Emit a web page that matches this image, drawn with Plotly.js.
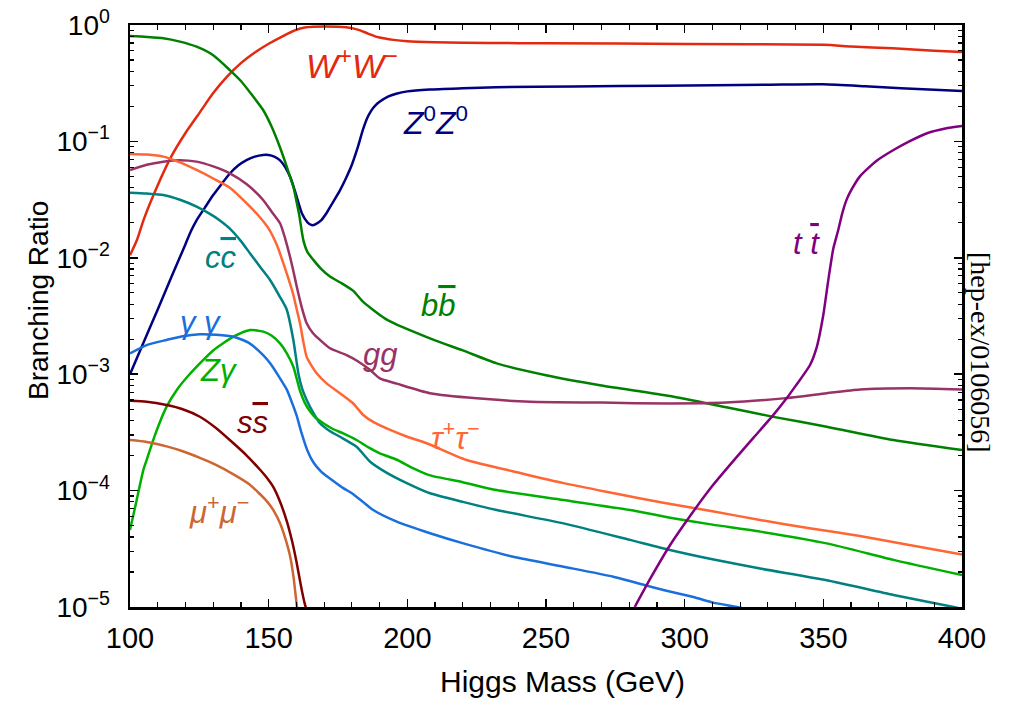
<!DOCTYPE html>
<html><head><meta charset="utf-8">
<script src="https://cdn.plot.ly/plotly-3.0.1.min.js"></script>
<style>html,body{margin:0;padding:0;background:#fff}#chart{width:1012px;height:706px}</style>
</head><body><div id="chart"></div>
<script>
// Higgs branching ratios vs mass (GeV)
const WW_m = [100,102.5,105,110,115,120,125,130,135,140,145,150,155,160,163,166,170,175,180,183,186,190,195,200,210,230,250,300,350,360,375,390,400];
const WW_br = [0.0105,0.0142,0.0215,0.042,0.075,0.118,0.175,0.26,0.36,0.47,0.58,0.69,0.80,0.91,0.95,0.965,0.97,0.965,0.94,0.90,0.84,0.78,0.745,0.725,0.712,0.70,0.697,0.688,0.675,0.655,0.63,0.60,0.585];

const ZZ_m = [100,105,110,115,120,122,124,127,130,133,136,139,142,145,148,150,152,154,156,158,160,162,164,165.5,167,169,171,173,175.7,178,180,182,184,185.5,187,188.5,190,193,196,200,208,220,232,260,292,330,350,365,378,400];
const ZZ_br = [0.001,0.0019,0.0036,0.0069,0.0131,0.0170,0.0210,0.0270,0.0346,0.043,0.053,0.062,0.069,0.074,0.0765,0.0764,0.074,0.069,0.060,0.048,0.034,0.024,0.0202,0.0191,0.0195,0.0211,0.0245,0.0295,0.038,0.049,0.063,0.087,0.126,0.158,0.184,0.204,0.219,0.243,0.257,0.269,0.279,0.286,0.292,0.296,0.301,0.307,0.31,0.298,0.286,0.271];

const BB_m = [100,106,112,118,124,130,136,140,144,148,151,154,156,157.7,159,160.1,161,162.5,164,166.1,169,172.1,176,180.5,184,187.7,192,196,202.2,210,220,232.2,250,270,294.7,315,332,351.2,375.3,400];
const BB_br = [0.804,0.79,0.769,0.72,0.651,0.55,0.41,0.33,0.25,0.186,0.135,0.090,0.066,0.0498,0.040,0.030,0.0235,0.0142,0.0112,0.0096,0.0080,0.0069,0.0061,0.0052,0.0042,0.00356,0.0030,0.00268,0.00232,0.00195,0.00160,0.00124,0.00098,0.00080,0.00065,0.00052,0.00043,0.000354,0.000272,0.000223];

const GG_m = [100,106,112,118,124,130,136,142,148,151,154.1,156,157.7,159,160.1,162,163.7,166,168.5,172.1,178.1,182,186.5,190.1,196.2,208.2,225,244.3,270,294.7,315,335.6,351.2,363.2,381.3,400];
const GG_br = [0.0568,0.063,0.067,0.069,0.067,0.061,0.0532,0.043,0.0314,0.025,0.0198,0.0145,0.0102,0.0075,0.0057,0.0037,0.00274,0.00225,0.00197,0.00167,0.00146,0.00130,0.00109,0.00092,0.00083,0.000686,0.00062,0.00058,0.00057,0.00056,0.00057,0.00062,0.000686,0.00074,0.000757,0.00074];

const TT_m = [100,106,112,118,124,130,136,142,146.9,150,153,156,157.7,158.9,160,161.3,162.5,163.7,165.5,167.3,171,175.7,180.5,184.1,188,193.8,200,207,221.4,240,256.3,275,292.3,310,327.2,345,363.2,380,400];
const TT_br = [0.078,0.077,0.074,0.066,0.0568,0.048,0.040,0.0295,0.0222,0.0178,0.0128,0.0080,0.0060,0.0048,0.0037,0.00274,0.0019,0.00141,0.00118,0.00102,0.00083,0.000686,0.00056,0.000446,0.000385,0.000332,0.000290,0.000255,0.000183,0.000143,0.000116,0.0000945,0.0000785,0.0000665,0.0000559,0.0000475,0.0000407,0.0000345,0.0000283];

const CC_m = [100,106,112,118,124,130,133,136,140,143.3,147,150.5,154.1,156.5,158.9,160.7,162,163.7,166,168.5,172,175.7,181.7,186.5,192,199.8,208.2,220,232.2,256.3,280.3,294.7,310,327.2,351.2,375.3,397,400];
const CC_br = [0.0363,0.0356,0.0346,0.0315,0.0275,0.0229,0.0204,0.0178,0.0139,0.0109,0.0083,0.00645,0.0046,0.0036,0.00197,0.00102,0.00076,0.0006,0.00047,0.000379,0.000325,0.00029,0.000238,0.000178,0.000145,0.000116,0.0000948,0.0000800,0.0000681,0.0000523,0.0000377,0.0000309,0.0000257,0.0000214,0.000017,0.0000127,0.00001,0.0000096];

const AA_m = [100,106,113.2,119,125.2,131,137.3,143,148.1,151,154.1,156.5,158.9,160.1,161.9,164,166.1,169,172.1,176.9,180,184,187.7,196.2,208.2,220.2,238.2,256.3,274.3,292.3,303.1,310.3,318.8,325];
const AA_br = [0.00151,0.00178,0.00197,0.00212,0.0022,0.00218,0.0021,0.00185,0.00145,0.00120,0.00092,0.00074,0.00053,0.00044,0.00031,0.00022,0.000175,0.000145,0.000127,0.000105,0.000095,0.00008,0.0000681,0.0000541,0.000043,0.0000352,0.000027,0.0000222,0.0000182,0.000014,0.0000122,0.0000109,0.00001,0.0000093];

const ZA_m = [100,102,104.8,106,109,113.2,117,121,125.2,130,137.3,143.3,148.1,151,154.1,156.5,158.9,161.3,163,164.9,167,169.7,173,176.9,181.7,186,190.1,196,202.2,208.2,220,232.2,256.3,280.3,294.7,310,327.2,351.2,375.3,400];
const ZA_br = [0.0000459,0.000075,0.00015,0.000183,0.00030,0.000526,0.00074,0.00097,0.00124,0.00160,0.0021,0.0024,0.00232,0.00215,0.00184,0.00152,0.00116,0.00072,0.00057,0.00048,0.00042,0.000379,0.00034,0.00031,0.000272,0.000235,0.000209,0.000185,0.000155,0.000135,0.000118,0.000101,0.000083,0.0000681,0.0000585,0.000051,0.0000444,0.0000352,0.0000254,0.0000188];

const SS_m = [100,106,113.2,119,125.2,131,137.3,142,146.9,149,151.7,154,156.5,158.5,160.1,161.9,163,164];
const SS_br = [0.00059,0.00058,0.000543,0.00050,0.000431,0.000345,0.000255,0.000201,0.000151,0.000132,0.000107,0.0000813,0.000055,0.0000363,0.000024,0.0000141,0.0000107,0.0000089];

const MM_m = [100,106,113.2,119,125.2,131,137.3,143,149.3,152,154.1,156,157.7,159,160.1,161];
const MM_br = [0.000272,0.000262,0.000240,0.000218,0.000191,0.000166,0.000138,0.0001135,0.0000813,0.0000661,0.0000525,0.0000389,0.0000275,0.0000178,0.0000105,0.0000071];

const TOP_m = [282,288,294.7,303.1,310,318.8,325,332,336.2,340,345.2,347.6,350,351.8,353.6,355.4,356.8,358.4,360.5,363.2,369,375.3,381,387.4,394,400];
const TOP_br = [0.00001,0.0000182,0.0000339,0.0000661,0.00011,0.000195,0.000288,0.000447,0.000596,0.000794,0.0012,0.0017,0.00324,0.00646,0.012,0.0174,0.024,0.0316,0.0398,0.0501,0.0676,0.0843,0.1,0.1175,0.129,0.1355];

const xTickVals = [100,150,200,250,300,350,400];
const yTickExp = [-5,-4,-3,-2,-1,0];

const series = [
  {m: WW_m, v: WW_br, c: '#e3290f'},
  {m: ZZ_m, v: ZZ_br, c: '#000080'},
  {m: BB_m, v: BB_br, c: '#008000'},
  {m: GG_m, v: GG_br, c: '#993366'},
  {m: TT_m, v: TT_br, c: '#ff6633'},
  {m: CC_m, v: CC_br, c: '#008080'},
  {m: ZA_m, v: ZA_br, c: '#00b000'},
  {m: AA_m, v: AA_br, c: '#1a6fdc'},
  {m: SS_m, v: SS_br, c: '#800000'},
  {m: MM_m, v: MM_br, c: '#cc6633'},
  {m: TOP_m, v: TOP_br, c: '#800080'}
];

const traces = series.map(s => ({
  x: s.m, y: s.v, type: 'scatter', mode: 'lines',
  line: {color: s.c, width: 2.5, shape: 'spline', smoothing: 0.6},
  hoverinfo: 'skip', showlegend: false
}));

const yTickVals = yTickExp.map(e => Math.pow(10, e));
const yTickText = yTickExp.map(e => '10<sup>' + (e < 0 ? '\u2212' + (-e) : e) + '</sup>');
const yMinor = [];
yTickExp.slice(0, -1).forEach(e => { for (let k = 2; k <= 9; k++) yMinor.push(k * Math.pow(10, e)); });
const xMinor = [];
for (let v = 110; v < 400; v += 10) if (v % 50 !== 0) xMinor.push(v);

const L = 130, R = 962, T = 25, B = 607;
const px = x => (x - L) / (R - L);
const py = y => (B - y) / (B - T);
const FONT = 'Liberation Sans, Arial, Helvetica, sans-serif';
const OL = s => '<span style="text-decoration:overline">' + s + '</span>';

function lab(text, x, y, color, size) {
  return {text: text, x: px(x), y: py(y), xref: 'paper', yref: 'paper', showarrow: false,
    xanchor: 'center', yanchor: 'middle', font: {family: FONT, size: size || 31, color: color}};
}

const annotations = [
  lab('<i>W</i><sup>+</sup><i>W</i><sup>\u2212</sup>', 352, 64, '#e3290f', 34),
  lab('<i>Z</i><sup>0</sup><i>Z</i><sup>0</sup>', 435, 121, '#000080', 32),
  lab('<i>c' + OL('c') + '</i>', 221, 257, '#008080'),
  lab('<i>b' + OL('b') + '</i>', 438, 305, '#008000'),
  lab('<i>\u03b3 \u03b3</i>', 200, 322, '#1a6fdc'),
  lab('<i>Z\u03b3</i>', 218, 370, '#00b000'),
  lab('<i>gg</i>', 380, 354, '#993366'),
  lab('<i>s' + OL('s') + '</i>', 252, 422, '#800000'),
  lab('<i>\u03c4</i><sup>+</sup><i>\u03c4</i><sup>\u2212</sup>', 455, 436, '#ff6633'),
  lab('<i>\u03bc</i><sup>+</sup><i>\u03bc</i><sup>\u2212</sup>', 219, 510, '#cc6633'),
  lab('<i>t ' + OL('t') + '</i>', 806, 243, '#800080'),
  {text: '[hep-ex/0106056]', x: px(981), y: py(352), xref: 'paper', yref: 'paper', showarrow: false,
    textangle: 90, xanchor: 'center', yanchor: 'middle',
    font: {family: 'Liberation Serif, Times New Roman, serif', size: 28, color: '#000'}},
  {text: 'Branching Ratio', x: px(38), y: py(301), xref: 'paper', yref: 'paper', showarrow: false,
    textangle: -90, xanchor: 'center', yanchor: 'middle', font: {family: FONT, size: 28, color: '#000'}},
  {text: 'Higgs Mass (GeV)', x: px(562), y: py(681), xref: 'paper', yref: 'paper', showarrow: false,
    xanchor: 'center', yanchor: 'middle', font: {family: FONT, size: 30, color: '#000'}}
];

const layout = {
  width: 1012, height: 706,
  margin: {l: L, r: 1012 - R, t: T, b: 706 - B, pad: 0},
  paper_bgcolor: '#fff', plot_bgcolor: '#fff',
  font: {family: FONT, color: '#000'},
  xaxis: {
    range: [100, 400], showgrid: false, zeroline: false,
    showline: true, linecolor: '#000', linewidth: 2.5, mirror: 'allticks',
    ticks: 'inside', ticklen: 8, tickwidth: 1.5, tickcolor: '#000',
    tickmode: 'array', tickvals: xTickVals, ticktext: xTickVals.map(String),
    tickfont: {family: FONT, size: 29, color: '#000'}, ticklabelstandoff: 4,
    minor: {tickmode: 'array', tickvals: xMinor, ticks: 'inside', ticklen: 5, tickwidth: 1.2, tickcolor: '#000', showgrid: false}
  },
  yaxis: {
    type: 'log', range: [-5, 0], showgrid: false, zeroline: false,
    showline: true, linecolor: '#000', linewidth: 2.5, mirror: 'allticks',
    ticks: 'inside', ticklen: 8, tickwidth: 1.5, tickcolor: '#000',
    tickmode: 'array', tickvals: yTickVals, ticktext: yTickText,
    tickfont: {family: FONT, size: 28, color: '#000'}, ticklabelstandoff: 12,
    minor: {tickmode: 'array', tickvals: yMinor, ticks: 'inside', ticklen: 4, tickwidth: 1.2, tickcolor: '#000', showgrid: false}
  },
  annotations: annotations
};

Plotly.newPlot('chart', traces, layout, {staticPlot: true, displayModeBar: false});
</script></body></html>
